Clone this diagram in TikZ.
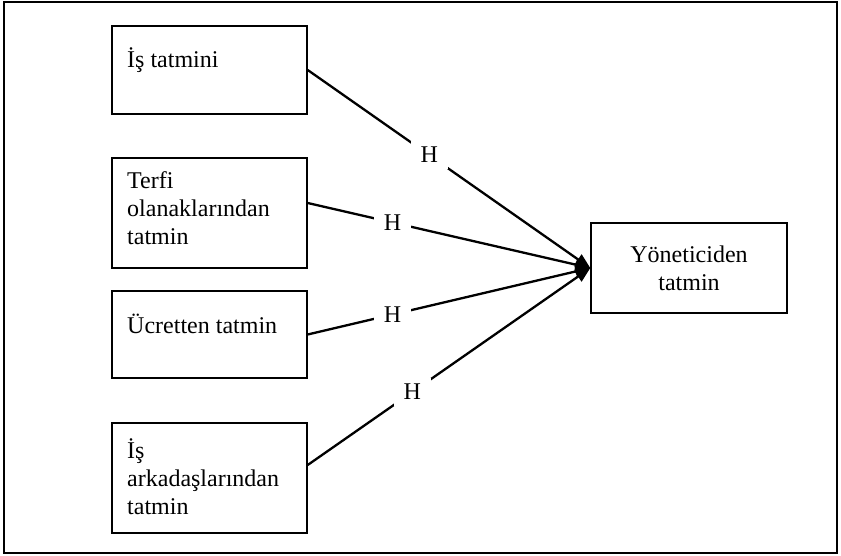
\documentclass[tikz,border=0pt]{standalone}
\usepackage{fontspec}
\setmainfont{Liberation Serif}
\usetikzlibrary{arrows.meta}

\tikzset{
  frame/.style={draw=black, line width=1.6pt},
  box/.style={draw=black, line width=1.4pt, rectangle, inner sep=0pt},
  txt/.style={inner sep=0pt, anchor=base west, font=\fontsize{24}{28}\selectfont},
  link/.style={draw=black, line width=2.3pt, -{Triangle[length=15pt,width=12pt]}},
  hlabel/.style={fill=white, inner xsep=10pt, inner ysep=6pt, font=\fontsize{24}{28}\selectfont}
}

\begin{document}
\begin{tikzpicture}[x=1pt, y=-1pt]
  \useasboundingbox (0,0) rectangle (841,556);

  % outer frame
  \draw[frame] (4,2) rectangle (837,553);

  % source boxes on the left
  \node[box, minimum width=195pt, minimum height=88pt]  (b1) at (209.5,70) {};
  \node[box, minimum width=195pt, minimum height=110pt] (b2) at (209.5,213) {};
  \node[box, minimum width=195pt, minimum height=87pt]  (b3) at (209.5,334.5) {};
  \node[box, minimum width=195pt, minimum height=110pt] (b4) at (209.5,478) {};

  % target box
  \node[box, minimum width=196pt, minimum height=90pt, align=center,
        font=\fontsize{24}{28}\selectfont] (y) at (689,268) {Yöneticiden\\tatmin};

  % box texts
  \node[txt] (t1)  at (127,68)  {İş tatmini};
  \node[txt] (t2a) at (127,189) {Terfi};
  \node[txt] (t2b) at (127,217) {olanaklarından};
  \node[txt] (t2c) at (127,245) {tatmin};
  \node[txt] (t3)  at (127,333) {Ücretten tatmin};
  \node[txt] (t4a) at (127,458) {İş};
  \node[txt] (t4b) at (127,486) {arkadaşlarından};
  \node[txt] (t4c) at (127,514) {tatmin};

  % connectors into the target box
  \draw[link] (b1.east) -- node[hlabel, pos=0.43] (h1) {H} (y.west);
  \draw[link] ([yshift=10pt]b2.east) -- node[hlabel, pos=0.30] (h2) {H} (y.west);
  \draw[link] (b3.east) -- node[hlabel, pos=0.30] (h3) {H} (y.west);
  \draw[link] ([yshift=13pt]b4.east) -- node[hlabel, pos=0.37] (h4) {H} (y.west);
\end{tikzpicture}
\end{document}
